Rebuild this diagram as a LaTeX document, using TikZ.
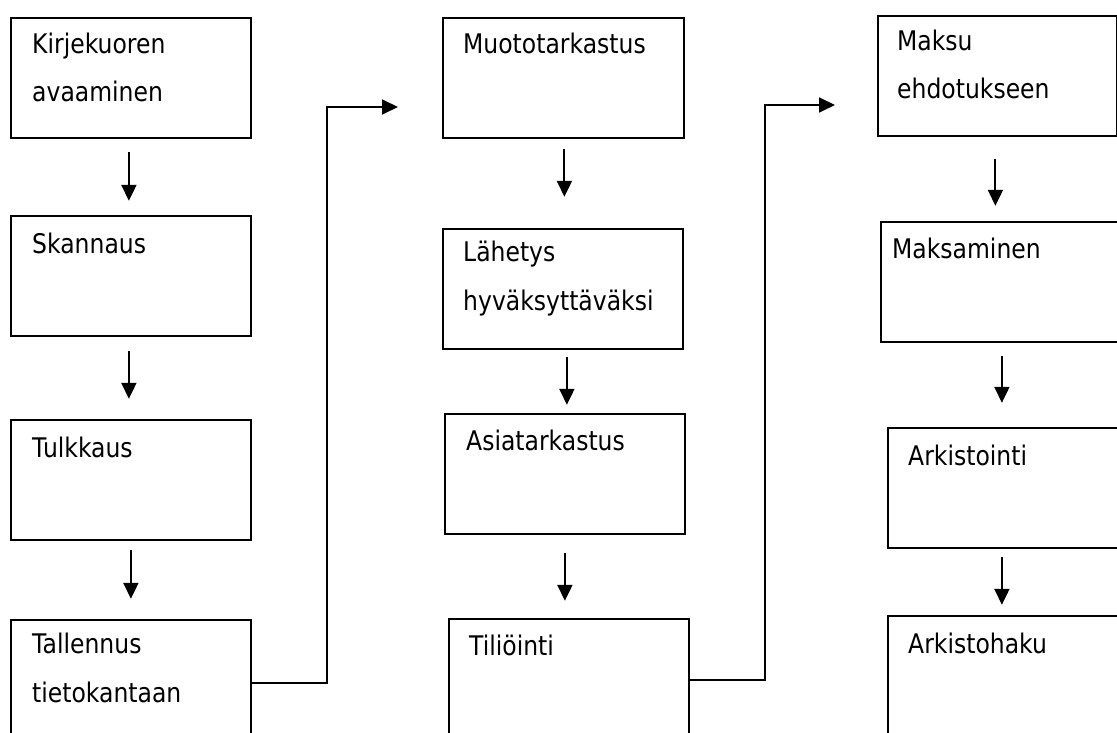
\documentclass[tikz,border=0pt]{standalone}
\usepackage{fontspec}
\setmainfont{DejaVu Sans}[FakeStretch=0.87]
\usetikzlibrary{arrows.meta}
\begin{document}
\begin{tikzpicture}[x=1pt,y=-1pt,
  box/.style={draw, line width=1.8pt, rectangle, inner sep=0pt, minimum width=240pt, minimum height=120pt, anchor=north west},
  txt/.style={anchor=base west, inner sep=0pt, align=left, font=\fontsize{27}{48.5}\selectfont},
  arr/.style={line width=2pt, -{Triangle[width=15pt,length=16pt]}},
  conn/.style={line width=1.8pt, -{Triangle[width=15pt,length=16pt]}}]
\useasboundingbox (0,0) rectangle (1117,733);
\clip (0,0) rectangle (1117,733);

% column 1
\node[box] (b1) at (10,17) {};
\node[box] (b2) at (10,215) {};
\node[box] (b3) at (10,419) {};
\node[box] (b4) at (10,619) {};
\node[txt] (t1) at (32,102) {Kirjekuoren\\avaaminen};
\node[txt] (t2) at (32,253) {Skannaus};
\node[txt] (t3) at (32,457) {Tulkkaus};
\node[txt] (t4) at (32,702) {Tallennus\\tietokantaan};

% column 2
\node[box, minimum width=241pt] (b5) at (442,17) {};
\node[box] (b6) at (442,228) {};
\node[box] (b7) at (444,413) {};
\node[box] (b8) at (448,618) {};
\node[txt] (t5) at (463,54) {Muototarkastus};
\node[txt] (t6) at (463,310) {Lähetys\\hyväksyttäväksi};
\node[txt] (t7) at (466,450) {Asiatarkastus};
\node[txt] (t8) at (469,655) {Tiliöinti};

% column 3
\node[box, minimum width=239pt] (b9) at (877,15) {};
\node[box] (b10) at (880,221) {};
\node[box] (b11) at (887,427) {};
\node[box] (b12) at (887,615) {};
\node[txt] (t9) at (897,99) {Maksu\\ehdotukseen};
\node[txt] (t10) at (892,258) {Maksaminen};
\node[txt] (t11) at (908,465) {Arkistointi};
\node[txt] (t12) at (908,653) {Arkistohaku};

% vertical arrows
\draw[arr] ([xshift=-2pt,yshift=-13pt]b1.south) -- ++(0,49);
\draw[arr] ([xshift=-2pt,yshift=-14pt]b2.south) -- ++(0,48);
\draw[arr] ([yshift=-9pt]b3.south) -- ++(0,49);
\draw[arr] ([xshift=1pt,yshift=-10pt]b5.south) -- ++(0,48);
\draw[arr] ([xshift=4pt,yshift=-7pt]b6.south) -- ++(0,48);
\draw[arr] ([yshift=-18pt]b7.south) -- ++(0,48);
\draw[arr] ([xshift=-2pt,yshift=-22pt]b9.south) -- ++(0,47);
\draw[arr] ([xshift=1pt,yshift=-13pt]b10.south) -- ++(0,47);
\draw[arr] ([xshift=-6pt,yshift=-8pt]b11.south) -- ++(0,48);

% connectors between columns
\coordinate (c1) at (398,107);
\coordinate (c2) at (835,105);
\draw[conn] ([yshift=-3pt]b4.east) -- ++(75,0) |- (c1);
\draw[conn] ([yshift=-1pt]b8.east) -- ++(75,0) |- (c2);
\end{tikzpicture}
\end{document}
